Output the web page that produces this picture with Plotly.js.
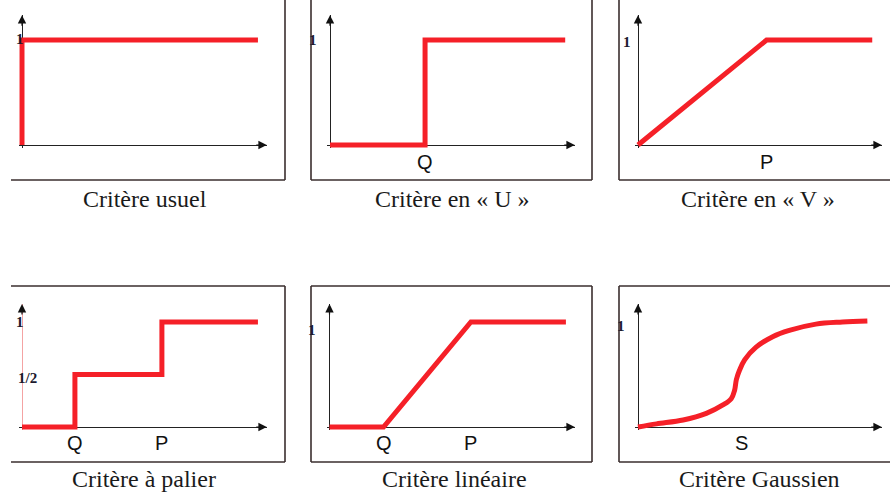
<!DOCTYPE html>
<html><head><meta charset="utf-8">
<script src="https://cdn.plot.ly/plotly-3.0.1.min.js"></script>
<style>html,body{margin:0;padding:0;background:#fff}#chart{width:890px;height:495px}</style>
</head><body><div id="chart"></div>
<script>
// ---------- DATA ----------
const captions = ['Critère usuel', 'Critère en « U »', 'Critère en « V »',
                  'Critère à palier', 'Critère linéaire', 'Critère Gaussien'];

const usuelX = [0, 0, 9.63];               const usuelY = [0, 1, 1];
const enUX = [0, 3.88, 3.88, 9.6];         const enUY = [0, 0, 1, 1];
const enVX = [0, 5.27, 9.6];               const enVY = [0, 1, 1];
const palierX = [0, 2.16, 2.16, 5.71, 5.71, 9.63];
const palierY = [0, 0, 0.5, 0.5, 1, 1];
const lineaireX = [0, 2.2, 5.76, 9.63];    const lineaireY = [0, 0, 1, 1];
const gaussX = [0, 0.76, 1.85, 2.8, 3.48, 3.82, 3.96, 4.03, 4.16, 4.37, 4.84, 5.52, 6.2, 7.29, 8.38, 9.4];
const gaussY = [0, 0.03, 0.067, 0.13, 0.21, 0.27, 0.35, 0.45, 0.54, 0.64, 0.76, 0.86, 0.92, 0.98, 1.0, 1.01];

// x tick labels (thresholds)
const usuelTickX = [],           usuelTickText = [];
const enUTickX = [3.88],         enUTickText = ['Q'];
const enVTickX = [5.27],         enVTickText = ['P'];
const palierTickX = [2.16, 5.71],   palierTickText = ['Q', 'P'];
const lineaireTickX = [2.2, 5.76],  lineaireTickText = ['Q', 'P'];
const gaussTickX = [4.24],       gaussTickText = ['S'];

// y tick labels
const usuelYTick = [1],      usuelYText = ['1'];
const enUYTick = [1],        enUYText = ['1'];
const enVYTick = [1],        enVYText = ['1'];
const palierYTick = [1, 0.5], palierYText = ['1', '1/2'];
const lineaireYTick = [1],   lineaireYText = ['1'];
const gaussYTick = [1],      gaussYText = ['1'];

// ---------- LAYOUT (pixel geometry) ----------
const W = 890, H = 495, SY = 105;
const RED = 'rgb(245,32,40)';
const FRAME = '#3a2e2e';

const panels = [
  {x: usuelX, y: usuelY, tx: usuelTickX, tt: usuelTickText, yv: usuelYTick, yt: usuelYText,
   ox: 22, oy: 145, tipX: 267, tipY: 15, lblDy: 17, ylShift: [[-2, 1]], axisCol: '#222',
   frame: {x0: 11, x1: 285, y0: -5, y1: 180, sides: 'rb'}, cap: [144.5, 199], spline: false},
  {x: enUX, y: enUY, tx: enUTickX, tt: enUTickText, yv: enUYTick, yt: enUYText,
   ox: 330, oy: 145, tipX: 575, tipY: 15, lblDy: 17, ylShift: [[-17, 0]], axisCol: '#222',
   frame: {x0: 311, x1: 592, y0: -5, y1: 180, sides: 'lrb'}, cap: [452, 199], spline: false},
  {x: enVX, y: enVY, tx: enVTickX, tt: enVTickText, yv: enVYTick, yt: enVYText,
   ox: 638, oy: 145, tipX: 882, tipY: 15, lblDy: 17, ylShift: [[-11, -2]], axisCol: '#222',
   frame: {x0: 619, x1: 895, y0: -5, y1: 180, sides: 'lb'}, cap: [758, 199], spline: false},
  {x: palierX, y: palierY, tx: palierTickX, tt: palierTickText, yv: palierYTick, yt: palierYText,
   ox: 22, oy: 427, tipX: 267, tipY: 304, lblDy: 16, ylShift: [[-2, 0], [5.5, -3.5]], axisCol: '#f4a3a3',
   frame: {x0: 11, x1: 285, y0: 286, y1: 462, sides: 'trb'}, cap: [144, 479], spline: false},
  {x: lineaireX, y: lineaireY, tx: lineaireTickX, tt: lineaireTickText, yv: lineaireYTick, yt: lineaireYText,
   ox: 329.5, oy: 427, tipX: 575, tipY: 304, lblDy: 16, ylShift: [[-17.5, -8]], axisCol: '#222',
   frame: {x0: 311, x1: 592, y0: 286, y1: 462, sides: 'tlrb'}, cap: [454, 479], spline: false},
  {x: gaussX, y: gaussY, tx: gaussTickX, tt: gaussTickText, yv: gaussYTick, yt: gaussYText,
   ox: 638, oy: 427, tipX: 882, tipY: 304, lblDy: 16, ylShift: [[-17, -4]], axisCol: '#222',
   frame: {x0: 619, x1: 895, y0: 286, y1: 462, sides: 'tlb'}, cap: [759, 479], spline: true}
];

const traces = [];
const layout = {
  width: W, height: H, margin: {l: 0, r: 0, t: 0, b: 0},
  paper_bgcolor: '#fff', plot_bgcolor: 'rgba(0,0,0,0)',
  showlegend: false, shapes: [], annotations: []
};

panels.forEach((p, i) => {
  const s = i === 0 ? '' : String(i + 1);
  const sx = (p.tipX - p.ox) / 10;
  const xr = [-0.12, 10];
  const ytip = (p.oy - p.tipY) / SY;
  const yr = [-0.03, ytip];
  layout['xaxis' + s] = {
    domain: [(p.ox + xr[0] * sx) / W, (p.ox + xr[1] * sx) / W], range: xr,
    anchor: 'y' + s, showgrid: false, showticklabels: false, ticks: '', showline: false,
    zeroline: true, zerolinecolor: p.axisCol, zerolinewidth: 1, fixedrange: true
  };
  layout['yaxis' + s] = {
    domain: [1 - (p.oy - yr[0] * SY) / H, 1 - (p.oy - yr[1] * SY) / H], range: yr,
    anchor: 'x' + s, showgrid: false, showticklabels: false, ticks: '', showline: false,
    zeroline: true, zerolinecolor: '#222', zerolinewidth: 1, fixedrange: true
  };
  traces.push({
    type: 'scatter', mode: 'lines', x: p.x, y: p.y, xaxis: 'x' + s, yaxis: 'y' + s,
    line: {color: RED, width: 5, shape: p.spline ? 'spline' : 'linear', smoothing: 1},
    hoverinfo: 'skip'
  });
  // axis arrowheads
  const arrowBase = {xref: 'x' + s, yref: 'y' + s, text: '', showarrow: true, arrowhead: 2,
    arrowsize: 1.4, arrowwidth: 1.2, arrowcolor: '#111', standoff: 0, startstandoff: 0};
  layout.annotations.push(Object.assign({}, arrowBase, {x: 0, y: ytip * 0.999, ax: 0, ay: 12}));
  layout.annotations.push(Object.assign({}, arrowBase, {x: 9.99, y: 0, ax: -12, ay: 0}));
  // x tick labels
  p.tx.forEach((v, k) => layout.annotations.push({
    xref: 'x' + s, yref: 'y' + s, x: v, y: 0, yshift: -p.lblDy, showarrow: false,
    text: p.tt[k], font: {family: 'Liberation Sans, Arial, sans-serif', size: 20, color: '#111'}
  }));
  // y tick labels
  p.yv.forEach((v, k) => layout.annotations.push({
    xref: 'x' + s, yref: 'y' + s, x: 0, y: v, xshift: p.ylShift[k][0], yshift: p.ylShift[k][1],
    showarrow: false, text: '<b>' + p.yt[k] + '</b>',
    font: {family: 'Liberation Serif, Times New Roman, serif', size: 15, color: '#1c1a2e'}
  }));
  // caption
  layout.annotations.push({
    xref: 'paper', yref: 'paper', x: p.cap[0] / W, y: 1 - p.cap[1] / H,
    xanchor: 'center', yanchor: 'middle', showarrow: false, text: captions[i],
    font: {family: 'Liberation Serif, Times New Roman, serif', size: 24, color: '#1a1a1a'}
  });
  // frame lines
  const f = p.frame;
  const L = (x0, y0, x1, y1) => layout.shapes.push({type: 'line', xref: 'paper', yref: 'paper',
    x0: x0 / W, y0: 1 - y0 / H, x1: x1 / W, y1: 1 - y1 / H, line: {color: FRAME, width: 1.6}});
  if (f.sides.includes('t')) L(f.x0, f.y0, f.x1, f.y0);
  if (f.sides.includes('b')) L(f.x0, f.y1, f.x1, f.y1);
  if (f.sides.includes('l')) L(f.x0, f.y0, f.x0, f.y1);
  if (f.sides.includes('r')) L(f.x1, f.y0, f.x1, f.y1);
});

Plotly.newPlot('chart', traces, layout, {staticPlot: true, displayModeBar: false});
</script>
</body></html>
